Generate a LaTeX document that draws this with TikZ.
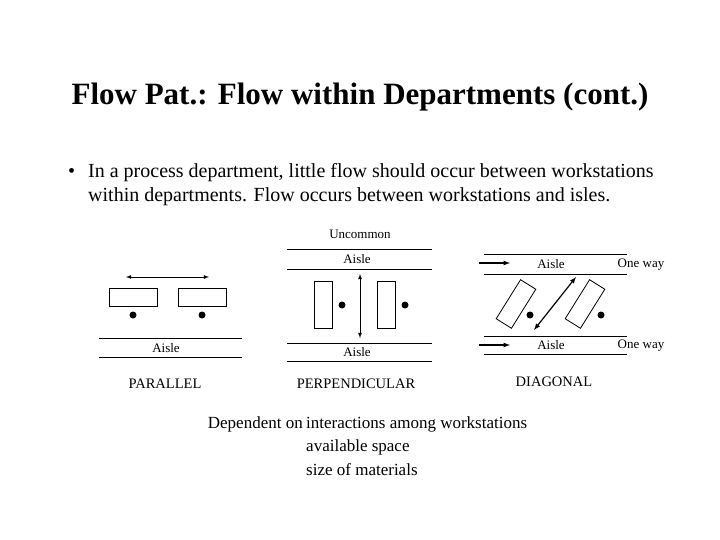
\documentclass[tikz,border=0pt]{standalone}
\usepackage{fontspec}
\setmainfont{Liberation Serif}
\begin{document}
\begin{tikzpicture}[x=1pt,y=-1pt,
  box/.style={draw,thick,inner sep=0pt},
  dot/.style={circle,fill,inner sep=0pt,minimum size=7pt},
  lbl/.style={font=\fontsize{13}{14}\selectfont,inner sep=0pt},
  captext/.style={font=\fontsize{14.5}{16}\selectfont,inner sep=0pt},
  body/.style={font=\fontsize{20}{23}\selectfont,inner sep=0pt,anchor=west},
  btm/.style={font=\fontsize{17}{19}\selectfont,inner sep=0pt},
  ln/.style={thick},
  arr/.style={thick,<->,>=latex},
  oneway/.style={very thick,->,>=latex}]
\useasboundingbox (0,0) rectangle (720,540);
\node[font=\bfseries\fontsize{31}{34}\selectfont] (title) at (360,97) {Flow Pat.: Flow within Departments (cont.)};
\node[body] (bul) at (68,173) {\textbullet};
\node[body] (t1) at (88,173) {In a process department, little flow should occur between workstations};
\node[body] (t2) at (88,197) {within departments.  Flow occurs between workstations and isles.};
% parallel
\coordinate (pa1) at (126,277); \coordinate (pa2) at (209,277);
\draw[arr] (pa1) -- (pa2);
\node[box,minimum width=48pt,minimum height=18pt] (pr1) at (133,297) {};
\node[box,minimum width=48pt,minimum height=18pt] (pr2) at (202,297) {};
\node[dot] (pd1) at (133,315) {}; \node[dot] (pd2) at (202,315) {};
\coordinate (pl1a) at (99,338); \coordinate (pl1b) at (242,338);
\coordinate (pl2a) at (99,357); \coordinate (pl2b) at (242,357);
\draw[ln] (pl1a) -- (pl1b); \draw[ln] (pl2a) -- (pl2b);
\node[lbl] (pal) at (166,348) {Aisle};
\node[captext] (pc) at (165,384) {PARALLEL};
% perpendicular
\node[lbl] (unc) at (360,234) {Uncommon};
\coordinate (q1a) at (287,249); \coordinate (q1b) at (432,249);
\coordinate (q2a) at (287,269); \coordinate (q2b) at (432,269);
\coordinate (q3a) at (287,343); \coordinate (q3b) at (432,343);
\coordinate (q4a) at (287,361); \coordinate (q4b) at (432,361);
\draw[ln] (q1a) -- (q1b); \draw[ln] (q2a) -- (q2b);
\draw[ln] (q3a) -- (q3b); \draw[ln] (q4a) -- (q4b);
\node[lbl] (qal1) at (357,259) {Aisle};
\node[lbl] (qal2) at (357,352) {Aisle};
\node[box,minimum width=18pt,minimum height=47pt] (qr1) at (323,305) {};
\node[box,minimum width=18pt,minimum height=47pt] (qr2) at (386,305) {};
\node[dot] (qd1) at (342,305) {}; \node[dot] (qd2) at (405,305) {};
\coordinate (qa1) at (360,274); \coordinate (qa2) at (360,338);
\draw[arr] (qa1) -- (qa2);
\node[captext] (qc) at (356,384) {PERPENDICULAR};
% diagonal
\coordinate (d1a) at (484,254); \coordinate (d1b) at (627,254);
\coordinate (d2a) at (484,274); \coordinate (d2b) at (627,274);
\coordinate (d3a) at (484,336); \coordinate (d3b) at (627,336);
\coordinate (d4a) at (484,354); \coordinate (d4b) at (627,354);
\draw[ln] (d1a) -- (d1b); \draw[ln] (d2a) -- (d2b);
\draw[ln] (d3a) -- (d3b); \draw[ln] (d4a) -- (d4b);
\coordinate (o1a) at (479,263); \coordinate (o1b) at (510,263);
\coordinate (o2a) at (479,345); \coordinate (o2b) at (510,345);
\draw[oneway] (o1a) -- (o1b); \draw[oneway] (o2a) -- (o2b);
\node[lbl] (dal1) at (551,264) {Aisle};
\node[lbl] (dal2) at (551,345) {Aisle};
\node[lbl] (ow1) at (641,265) {One way};
\node[lbl] (ow2) at (641,346) {One way};
\node[box,minimum width=46pt,minimum height=18pt,rotate=58] (dr1) at (516,304) {};
\node[box,minimum width=46pt,minimum height=18pt,rotate=58] (dr2) at (585,304) {};
\node[dot] (dd1) at (530,315) {}; \node[dot] (dd2) at (601,315) {};
\coordinate (da1) at (534,330); \coordinate (da2) at (576,277);
\draw[arr,semithick,line width=1.2pt] (da1) -- (da2);
\node[captext] (dc) at (554,382) {DIAGONAL};
% bottom
\node[btm,anchor=east] (dep) at (303,424) {Dependent on};
\node[btm,anchor=west] (b1) at (306,424) {interactions among workstations};
\node[btm,anchor=west] (b2) at (306,447) {available space};
\node[btm,anchor=west] (b3) at (306,470) {size of materials};
\end{tikzpicture}
\end{document}
